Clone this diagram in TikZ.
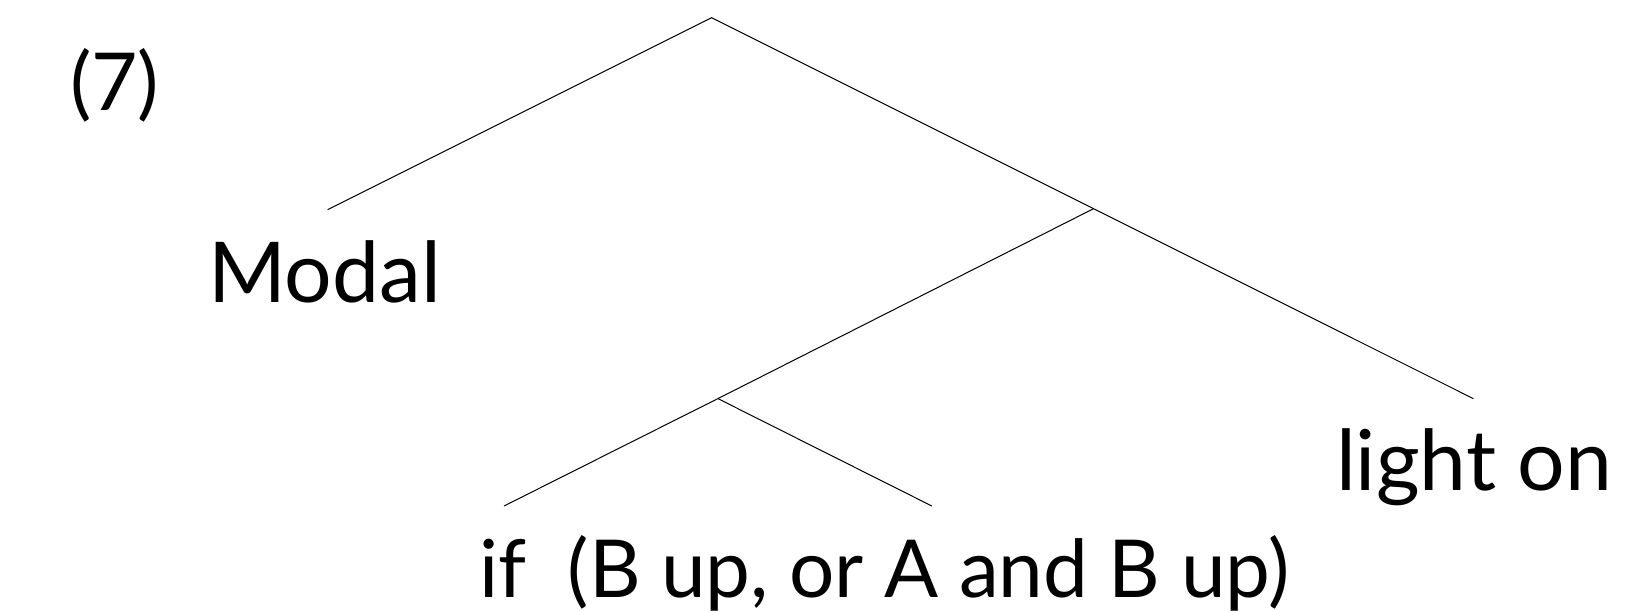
\documentclass[tikz,border=0pt]{standalone}
\usepackage{fontspec}
\setmainfont{Lato}
\usepackage{tikz}

\begin{document}
\begin{tikzpicture}[x=.5pt,y=-.5pt]
\tikzset{branch/.style={draw=black,line width=0.5pt},
  leaf/.style={inner sep=0pt,outer sep=0pt,anchor=base west,font=\fontsize{42}{50}\selectfont}}
\path[use as bounding box] (0,0) rectangle (1636,610);
\path[fill=white,draw=none] (0,0) rectangle (1636,610);
\node[leaf,font=\fontsize{40}{48}\selectfont] (exnum) at (70,111) {(7)};
% tree nodes
\coordinate (root) at (711.6,17.7);
\coordinate (modalend) at (327.6,209.7);
\coordinate (vp) at (1093.5,208.7);
\coordinate (lighton) at (1473.3,398.6);
\coordinate (cond) at (717.9,398.6);
\coordinate (ifend) at (504,506);
\coordinate (clauseend) at (931.8,506);
\draw[branch] (modalend) -- (root) -- (lighton);
\draw[branch] (vp) -- (cond);
\draw[branch] (ifend) -- (cond) -- (clauseend);
% labels
\node[leaf] (modal) at (208,302.7) {Modal};
\node[leaf] (light) at (1336,490.4) {light on};
\node[leaf,font=\fontsize{40}{48}\selectfont] (iflabel) at (479.5,597) {if~~(B up, or A and B up)};
\end{tikzpicture}
\end{document}
